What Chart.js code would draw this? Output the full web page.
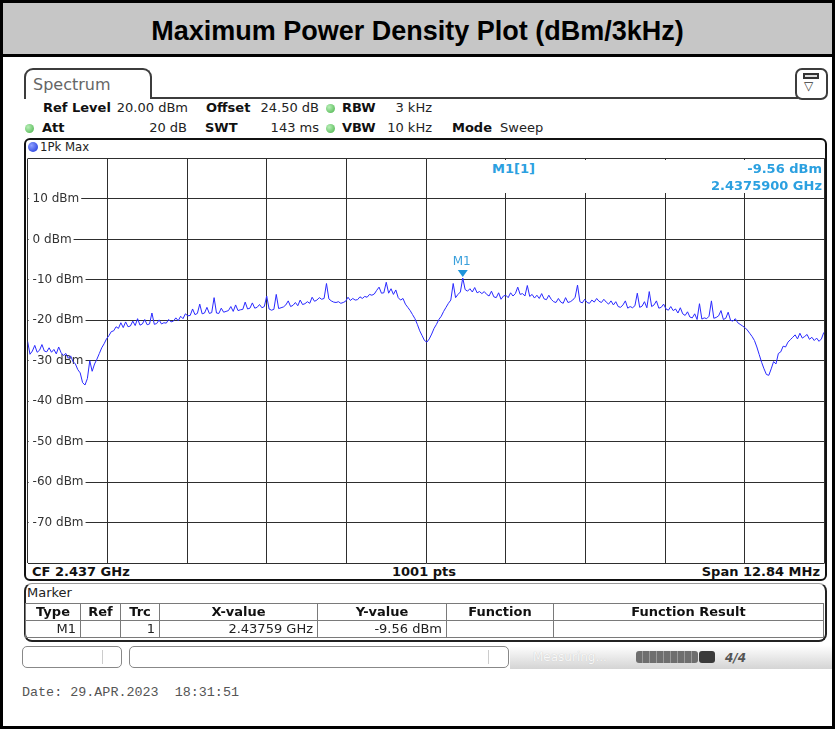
<!DOCTYPE html>
<html>
<head>
<meta charset="utf-8">
<script src="https://cdn.jsdelivr.net/npm/chart.js@4.4.1/dist/chart.umd.min.js"></script>
<style>
  html, body { margin:0; padding:0; background:#fff; }
  #page { position:relative; width:835px; height:729px; overflow:hidden; background:#fff;
          font-family:"DejaVu Sans","DejaVu Sans Condensed",sans-serif; font-size:13px; color:#222; }
  .a { position:absolute; white-space:nowrap; line-height:16px; }
  .b { font-weight:bold; color:#111; }
  .r { text-align:right; }
  .dot { position:absolute; width:9px; height:9px; border-radius:50%;
         background:radial-gradient(circle at 35% 35%, #b8efb8, #45b045); }
  #chartCanvas { position:absolute; left:0; top:0; z-index:2; }
  #mtab { position:absolute; left:25px; top:603px; border-collapse:collapse; table-layout:fixed; width:798px; z-index:3; }
  #mtab th, #mtab td { border:1px solid #7a7a7a; padding:0 4px; height:16px; line-height:16px; font-size:13px;
         font-family:"DejaVu Sans",sans-serif; overflow:hidden; white-space:nowrap; }
  #mtab th { font-weight:bold; color:#111; text-align:center; }
  #mtab td { text-align:right; color:#222; }
</style>
</head>
<body>
<div id="page">
  <!-- title band -->
  <div class="a" style="left:0;top:0;width:835px;height:57px;box-sizing:border-box;border:3px solid #000;background:#c6c6c6;
       font-family:'Liberation Sans',Arial,sans-serif;font-weight:bold;font-size:27px;line-height:56px;text-align:center;color:#000;">Maximum Power Density Plot (dBm/3kHz)</div>
  <!-- body frame -->
  <div class="a" style="left:0;top:54px;width:835px;height:675px;box-sizing:border-box;border-left:3px solid #000;border-right:3px solid #000;border-bottom:3px solid #000;"></div>

  <!-- Spectrum tab -->
  <div class="a" style="left:24px;top:68px;width:128px;height:31px;box-sizing:border-box;border:2px solid #3c3c3c;border-bottom:none;border-radius:9px 9px 0 0;background:#fff;"></div>
  <div class="a" style="left:33px;top:76px;font-size:16px;line-height:18px;color:#666;">Spectrum</div>
  <div class="a" style="left:150px;top:97px;width:648px;height:2px;background:#3c3c3c;"></div>
  <div class="a" style="left:795px;top:68px;width:33px;height:32px;box-sizing:border-box;border:2px solid #3c3c3c;border-radius:7px;background:#fff;"></div>
  <div class="a" style="left:803px;top:73px;width:16px;height:6px;box-sizing:border-box;border:2px solid #333;background:#ddd;"></div>
  <div class="a" style="left:804px;top:79px;font-size:12px;line-height:14px;color:#333;">▽</div>

  <!-- header rows -->
  <div class="a b" style="left:43px;top:100px;">Ref Level</div>
  <div class="a r" style="left:100px;top:100px;width:88px;">20.00 dBm</div>
  <div class="a b" style="left:206px;top:100px;">Offset</div>
  <div class="a r" style="left:230px;top:100px;width:89px;">24.50 dB</div>
  <div class="dot" style="left:326px;top:104px;"></div>
  <div class="a b" style="left:342px;top:100px;">RBW</div>
  <div class="a r" style="left:380px;top:100px;width:52px;">3 kHz</div>

  <div class="dot" style="left:25px;top:124px;"></div>
  <div class="a b" style="left:42px;top:120px;">Att</div>
  <div class="a r" style="left:120px;top:120px;width:67px;">20 dB</div>
  <div class="a b" style="left:205px;top:120px;">SWT</div>
  <div class="a r" style="left:250px;top:120px;width:69px;">143 ms</div>
  <div class="dot" style="left:326px;top:124px;"></div>
  <div class="a b" style="left:342px;top:120px;">VBW</div>
  <div class="a r" style="left:370px;top:120px;width:62px;">10 kHz</div>
  <div class="a b" style="left:452px;top:120px;">Mode</div>
  <div class="a" style="left:500px;top:120px;">Sweep</div>

  <!-- trace panel -->
  <div class="a" style="left:24px;top:138px;width:803px;height:443px;box-sizing:border-box;border:2px solid #111;border-radius:6px;background:#fff;"></div>
  <div class="a" style="left:28px;top:142px;width:10px;height:10px;border-radius:50%;background:radial-gradient(circle at 35% 35%, #8fa0ff, #1530d8);"></div>
  <div class="a" style="left:40px;top:139px;color:#222;font-family:'DejaVu Sans Condensed','DejaVu Sans',sans-serif;">1Pk Max</div>
  <!-- footer strip -->
  <div class="a b" style="left:32px;top:564px;">CF 2.437 GHz</div>
  <div class="a b" style="left:374px;top:564px;width:100px;text-align:center;">1001 pts</div>
  <div class="a b r" style="left:620px;top:564px;width:200px;">Span 12.84 MHz</div>

  <!-- marker info box over grid -->
  <div class="a" style="left:428px;top:160px;width:396px;height:33px;background:#fff;z-index:3;"></div>
  <div class="a" style="left:492px;top:161px;z-index:4;font-weight:bold;font-size:13px;color:#2ba0e0;">M1[1]</div>
  <div class="a r" style="left:622px;top:161px;width:200px;z-index:4;font-weight:bold;font-size:13px;color:#2ba0e0;">-9.56 dBm</div>
  <div class="a r" style="left:622px;top:178px;width:200px;z-index:4;font-weight:bold;font-size:13px;color:#2ba0e0;">2.4375900 GHz</div>

  <!-- marker panel -->
  <div class="a" style="left:24px;top:583px;width:803px;height:59px;box-sizing:border-box;border:2px solid #222;border-top:1px solid #999;border-radius:8px;background:#fff;"></div>
  <div class="a" style="left:27px;top:585px;color:#222;">Marker</div>
  <table id="mtab">
    <colgroup><col style="width:55px"><col style="width:40px"><col style="width:39px"><col style="width:158px"><col style="width:129px"><col style="width:107px"><col style="width:270px"></colgroup>
    <tr><th>Type</th><th>Ref</th><th>Trc</th><th>X-value</th><th>Y-value</th><th>Function</th><th>Function Result</th></tr>
    <tr><td>M1</td><td></td><td>1</td><td>2.43759 GHz</td><td>-9.56 dBm</td><td></td><td></td></tr>
  </table>

  <!-- status bar -->
  <div class="a" style="left:22px;top:646px;width:100px;height:22px;box-sizing:border-box;border:1px solid #888;border-radius:5px;background:#fff;"></div>
  <div class="a" style="left:102px;top:650px;width:1px;height:14px;background:#ccc;"></div>
  <div class="a" style="left:129px;top:646px;width:380px;height:22px;box-sizing:border-box;border:1px solid #888;border-radius:5px;background:#fff;"></div>
  <div class="a" style="left:488px;top:650px;width:1px;height:14px;background:#ccc;"></div>
  <div class="a" style="left:510px;top:645px;width:322px;height:24px;background:linear-gradient(to bottom,#ffffff,#d4d4d4);"></div>
  <div class="a" style="left:533px;top:649px;font-size:12px;color:#f8f8f8;text-shadow:0 0 1px #bbb;">Measuring...</div>
  <div class="a" style="left:636px;top:651px;width:62px;height:12px;border-radius:3px;background:repeating-linear-gradient(to right,#6e6e6e 0 6px,#9a9a9a 6px 7px);"></div>
  <div class="a" style="left:699px;top:651px;width:16px;height:12px;border-radius:3px;background:#3a3a3a;"></div>
  <div class="a" style="left:725px;top:650px;font-size:12px;font-weight:bold;font-style:italic;color:#555;">4/4</div>

  <!-- date -->
  <div class="a" style="left:22px;top:685px;font-family:'Liberation Mono','DejaVu Sans Mono',monospace;font-size:13.4px;color:#555;white-space:pre;">Date: 29.APR.2023  18:31:51</div>

  <canvas id="chartCanvas" width="835" height="729"></canvas>
</div>

<script>
// ---- data ----
const sweepPoints = 1001;          // trace points of the analyser
const sampleStep = 3;              // one reading every 3 sweep points
const traceDbm = [
 -25.2,-28.4,-27.6,-26.2,-27.9,-27.4,-26.0,-27.6,-27.8,-26.8,
 -27.9,-27.2,-28.3,-26.6,-28.0,-28.7,-28.2,-29.4,-28.8,-30.2,
 -30.8,-32.2,-33.0,-35.4,-36.0,-34.4,-30.0,-32.6,-30.8,-29.6,
 -28.2,-26.8,-25.8,-24.6,-23.8,-22.8,-22.6,-21.6,-22.0,-20.6,
 -21.8,-20.4,-21.6,-21.4,-20.2,-21.3,-19.6,-21.2,-20.9,-19.8,
 -21.1,-20.9,-18.2,-21.0,-20.8,-19.9,-20.9,-20.6,-20.7,-19.8,
 -20.4,-20.2,-19.4,-20.1,-19.0,-19.6,-18.4,-18.9,-18.8,-17.2,
 -18.6,-18.3,-16.0,-18.4,-18.2,-16.8,-18.3,-18.1,-14.4,-18.2,
 -18.3,-17.0,-18.0,-17.8,-17.6,-16.6,-17.8,-16.2,-17.6,-17.4,
 -17.3,-15.5,-17.2,-17.0,-15.7,-17.0,-16.8,-16.1,-16.9,-16.6,
 -14.0,-17.2,-17.5,-17.3,-13.6,-17.1,-16.9,-16.7,-16.2,-15.2,
 -16.6,-16.3,-15.6,-16.4,-15.0,-16.1,-15.9,-15.4,-15.8,-14.3,
 -15.3,-15.0,-14.4,-14.8,-14.6,-10.9,-14.7,-15.2,-15.5,-15.6,
 -15.4,-15.8,-15.6,-15.3,-14.3,-15.1,-14.6,-15.0,-14.9,-14.2,
 -14.6,-14.1,-14.3,-13.6,-13.8,-13.5,-12.6,-11.8,-13.3,-13.2,
 -10.6,-13.3,-12.2,-13.6,-12.5,-14.4,-15.0,-14.6,-16.0,-16.8,
 -17.6,-18.6,-19.6,-21.0,-22.6,-23.8,-25.0,-25.4,-24.6,-23.4,
 -22.0,-21.0,-19.8,-19.0,-17.8,-16.8,-15.8,-15.0,-10.9,-14.4,
 -13.6,-13.0,-9.56,-12.4,-12.8,-12.2,-13.0,-11.9,-13.2,-12.9,
 -13.4,-12.9,-13.6,-14.0,-12.8,-14.2,-14.4,-13.2,-14.8,-14.0,
 -13.8,-14.4,-13.2,-14.0,-13.4,-11.8,-13.6,-13.4,-14.0,-11.4,
 -14.1,-13.6,-14.5,-13.8,-14.6,-13.4,-14.7,-14.9,-13.8,-14.8,
 -15.4,-15.6,-14.6,-15.5,-15.8,-14.4,-15.6,-15.4,-15.0,-14.3,
 -11.3,-15.4,-15.7,-14.8,-15.6,-15.8,-15.0,-15.5,-14.6,-15.3,
 -15.6,-14.8,-15.5,-16.0,-15.2,-16.2,-15.4,-16.6,-16.8,-16.2,
 -15.2,-17.0,-16.6,-16.9,-16.4,-13.3,-16.8,-16.5,-15.4,-16.9,
 -12.9,-16.6,-16.2,-15.2,-17.0,-16.8,-16.0,-17.2,-17.5,-16.6,
 -17.6,-17.2,-18.2,-16.9,-18.4,-18.8,-17.9,-19.2,-19.4,-18.4,
 -19.8,-15.9,-19.7,-19.4,-19.6,-19.0,-15.2,-19.5,-19.3,-18.9,
 -17.6,-19.8,-19.5,-18.0,-20.0,-20.2,-19.6,-20.6,-21.0,-21.4,
 -21.8,-22.4,-23.2,-24.0,-25.0,-26.6,-28.5,-30.4,-32.0,-33.4,
 -33.6,-32.0,-30.2,-30.8,-28.2,-27.8,-26.4,-26.6,-25.4,-24.8,
 -24.2,-23.6,-24.6,-23.2,-24.4,-24.0,-23.5,-24.7,-24.2,-25.0,
 -24.4,-25.2,-24.6,-23.0
];
const yTickValues = [20, 10, 0, -10, -20, -30, -40, -50, -60, -70, -80];
const markerName = 'M1';
const markerPoint = 546;           // sweep point of 2.43759 GHz
const markerDbm = -9.56;

const tracePoints = traceDbm.map((v, i) => ({ x: i * sampleStep, y: v }));

const markerPlugin = {
  id: 'markerPlugin',
  afterDatasetsDraw(chart) {
    const { ctx, scales: { x, y } } = chart;
    const px = x.getPixelForValue(markerPoint);
    const py = y.getPixelForValue(markerDbm);
    ctx.save();
    ctx.fillStyle = '#1e95da';
    ctx.beginPath();
    ctx.moveTo(px - 5, py - 8);
    ctx.lineTo(px + 5, py - 8);
    ctx.lineTo(px, py - 1);
    ctx.closePath();
    ctx.fill();
    ctx.font = '12px "DejaVu Sans"';
    ctx.textAlign = 'center';
    ctx.textBaseline = 'middle';
    ctx.fillStyle = '#3aa0dc';
    ctx.fillText(markerName, px - 1, py - 16);
    ctx.restore();
  }
};

new Chart(document.getElementById('chartCanvas'), {
  type: 'line',
  data: {
    datasets: [{
      data: tracePoints,
      borderColor: '#2a2aff',
      borderWidth: 1,
      pointRadius: 0,
      tension: 0,
      fill: false
    }]
  },
  options: {
    responsive: false,
    devicePixelRatio: 1,
    animation: false,
    events: [],
    layout: { padding: { left: 27.6, right: 10.4, top: 158.5, bottom: 166 } },
    plugins: { legend: { display: false }, title: { display: false }, tooltip: { enabled: false } },
    scales: {
      x: {
        type: 'linear', min: 0, max: sweepPoints - 1,
        ticks: { display: false, stepSize: 100 },
        grid: { color: '#2e2e2e', lineWidth: 1, drawTicks: false },
        border: { display: false },
        afterFit: s => { s.height = 0; }
      },
      y: {
        type: 'linear', min: -80, max: 20,
        afterBuildTicks: s => { s.ticks = yTickValues.map(v => ({ value: v })); },
        ticks: {
          mirror: true, padding: 5,
          color: '#333',
          font: { family: 'DejaVu Sans', size: 12 },
          callback: v => (v === 20 || v === -80) ? '' : v + ' dBm',
          showLabelBackdrop: true,
          backdropColor: c => (c.tick && (c.tick.value === 20 || c.tick.value === -80)) ? 'rgba(0,0,0,0)' : '#ffffff',
          backdropPadding: { left: 4, right: 2, top: 0, bottom: 0 }
        },
        grid: { color: '#2e2e2e', lineWidth: 1, drawTicks: false },
        border: { display: false },
        afterFit: s => { s.width = 0; }
      }
    }
  },
  plugins: [markerPlugin]
});
</script>
</body>
</html>
